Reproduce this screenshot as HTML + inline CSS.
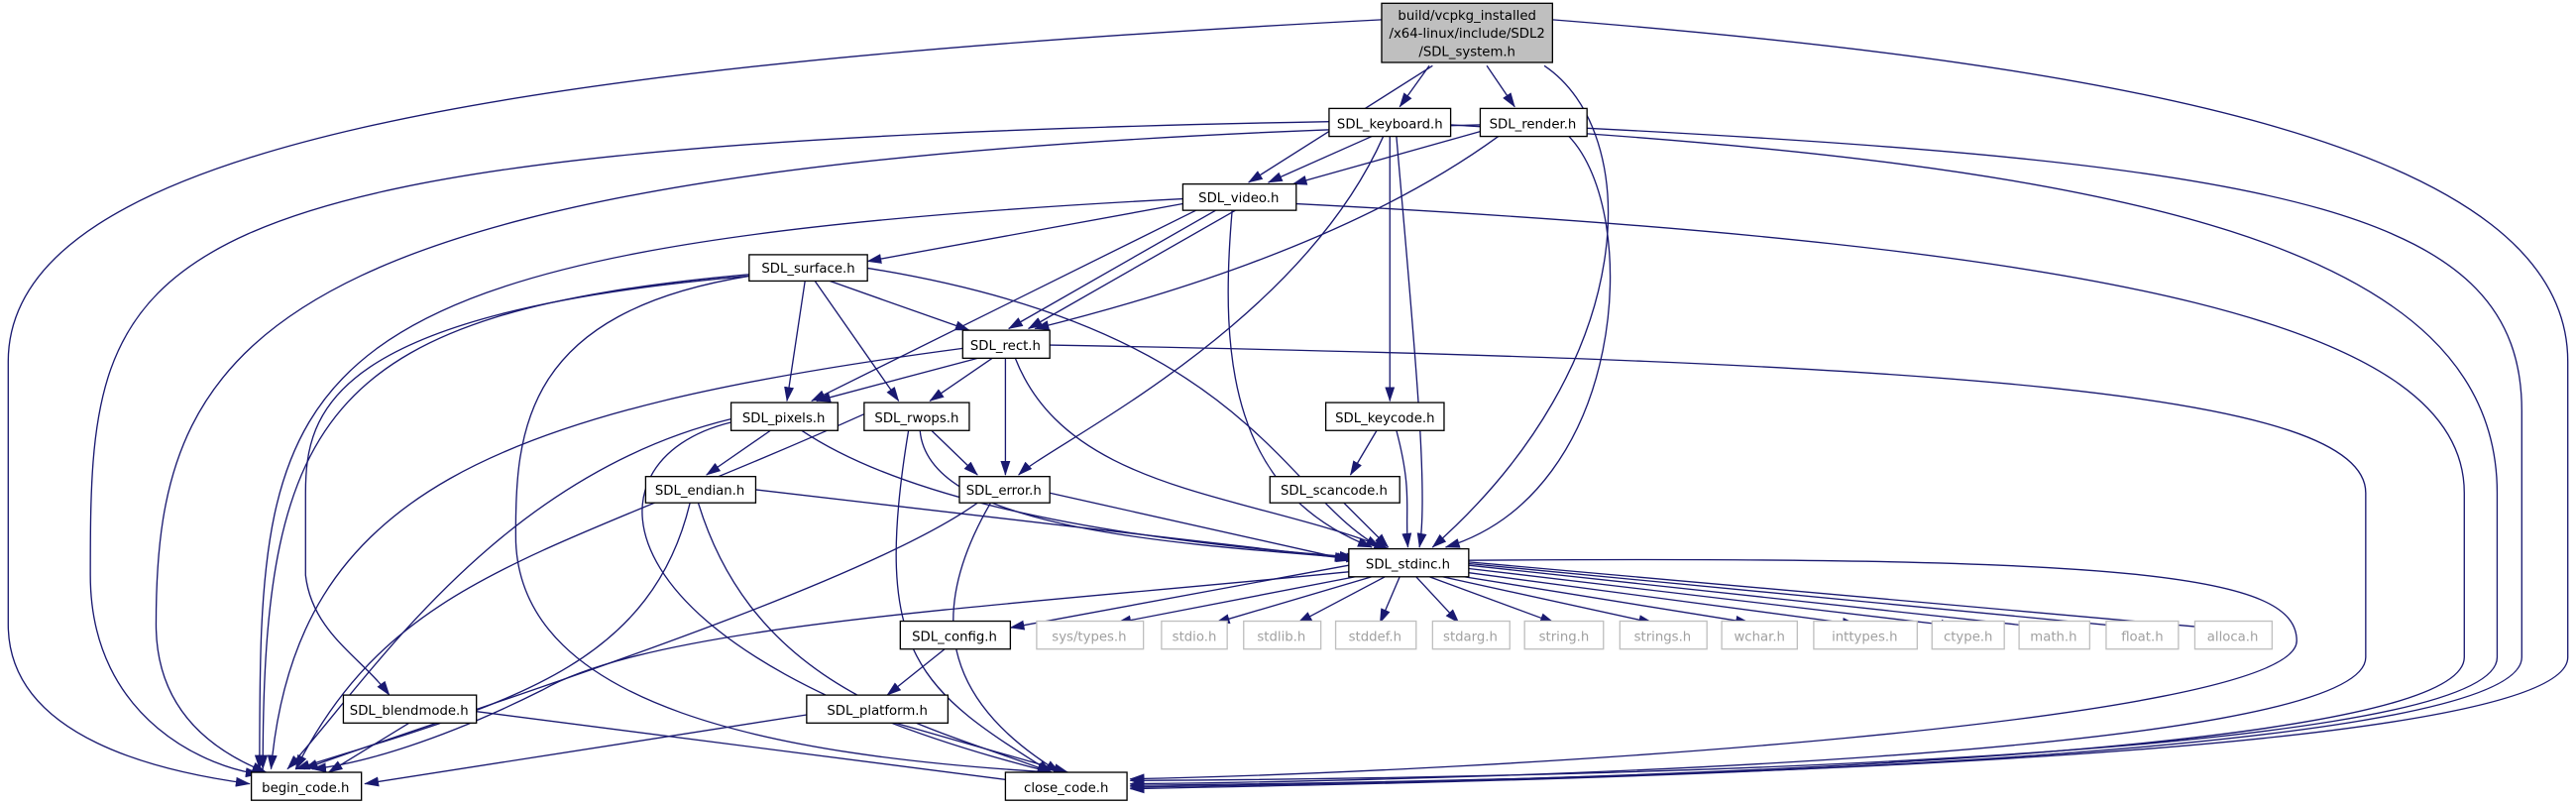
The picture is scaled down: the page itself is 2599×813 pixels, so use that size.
<!DOCTYPE html>
<html><head><meta charset="utf-8"><style>
html,body{margin:0;padding:0;background:#fff;}
svg{display:block;}
text{font-family:"DejaVu Sans","Liberation Sans",sans-serif;font-size:8px;}
</style></head><body>
<svg width="2599" height="813" viewBox="0 0 1568 490.5" preserveAspectRatio="none" xmlns="http://www.w3.org/2000/svg">
<defs>
<marker id="a" markerWidth="9" markerHeight="6" refX="8.5" refY="3" orient="auto" markerUnits="userSpaceOnUse">
<path d="M0,0 L9,3 L0,6 Z" fill="#191970"/>
</marker>
</defs>
<g fill="none" stroke="#191970" stroke-width="0.8" marker-end="url(#a)">
<path d="M841,12 C300,40 5,90 5,220 L5,380 C5,450 100,470 152,477"/>
<path d="M945,12 C1300,40 1563,90 1563,220 L1563,400 C1563,465 900,476 688,478"/>
<path d="M872,40 L760,111"/>
<path d="M870,40 L852,65"/>
<path d="M905,40 L922,65"/>
<path d="M940,40 C1000,80 1000,220 872,333"/>
<path d="M835,83 L772,111"/>
<path d="M809,74 C60,88 55,150 55,350 C55,440 130,468 158,471"/>
<path d="M883,76 C1300,100 1520,150 1520,300 L1520,400 C1520,465 900,474 688,475"/>
<path d="M842,83 C790,200 640,270 620,289"/>
<path d="M846,83 L846,244"/>
<path d="M850,83 C860,200 870,300 864,333"/>
<path d="M901,80 L787,112"/>
<path d="M912,83 C820,150 690,185 630,200"/>
<path d="M901,76 C160,95 95,200 95,380 C95,445 150,465 162,470"/>
<path d="M966,78 C1400,100 1535,130 1535,250 L1535,400 C1535,465 900,476 688,480"/>
<path d="M955,83 C1000,130 990,300 880,333"/>
<path d="M720,124 L528,159"/>
<path d="M740,128 L614,200"/>
<path d="M752,128 L626,200"/>
<path d="M728,128 L494,244"/>
<path d="M750,128 C742,220 750,300 835,333"/>
<path d="M789,124 C1300,150 1500,200 1500,300 L1500,400 C1500,465 900,476 688,479"/>
<path d="M720,121 C160,150 158,220 158,468"/>
<path d="M505,171 L590,201"/>
<path d="M490,171 L479,244"/>
<path d="M496,171 L547,244"/>
<path d="M527,163 C760,200 780,300 840,333"/>
<path d="M456,168 C200,190 186,250 186,300 L186,350 C190,385 220,400 237,423"/>
<path d="M456,167 C200,190 160,250 160,468"/>
<path d="M456,168 C320,190 313,260 314,330 C318,430 470,460 640,470"/>
<path d="M595,218 L497,244"/>
<path d="M604,218 L566,244"/>
<path d="M612,218 L612,289"/>
<path d="M618,218 C650,300 760,300 845,334"/>
<path d="M586,212 C300,250 180,300 165,468"/>
<path d="M639,210 C1200,220 1440,240 1440,300 L1440,400 C1440,460 900,475 688,477"/>
<path d="M469,262 L430,289"/>
<path d="M488,262 C560,310 700,330 824,339"/>
<path d="M445,255 C300,290 220,420 175,468"/>
<path d="M445,257 C350,280 360,400 640,470"/>
<path d="M567,262 L595,289"/>
<path d="M560,262 C565,320 700,330 828,340"/>
<path d="M526,252 C330,340 240,350 180,468"/>
<path d="M553,262 C530,400 560,420 640,470"/>
<path d="M460,298 L821,340"/>
<path d="M420,306 C395,410 300,430 180,468"/>
<path d="M425,306 C460,420 560,440 640,470"/>
<path d="M639,300 L822,341"/>
<path d="M595,306 C520,360 260,440 185,468"/>
<path d="M603,306 C560,380 580,430 645,470"/>
<path d="M838,262 L822,289"/>
<path d="M850,262 C860,300 855,310 857,333"/>
<path d="M818,306 L845,333"/>
<path d="M821,344 L615,382"/>
<path d="M825,351 L680,379"/>
<path d="M835,351 L740,379"/>
<path d="M843,351 L790,379"/>
<path d="M852,351 L840,379"/>
<path d="M862,351 L888,379"/>
<path d="M870,351 L946,379"/>
<path d="M878,351 L1006,379"/>
<path d="M885,350 L1065,379"/>
<path d="M890,348 L1130,380"/>
<path d="M894,346 L1190,381"/>
<path d="M894,344 L1245,382"/>
<path d="M894,343 L1300,382"/>
<path d="M894,342 L1355,383"/>
<path d="M821,348 C600,370 400,380 330,420 C270,450 220,465 190,468"/>
<path d="M894,341 C1300,338 1398,350 1398,390 C1398,440 900,470 688,474"/>
<path d="M575,395 L540,423"/>
<path d="M491,435 L222,477"/>
<path d="M545,440 L650,470"/>
<path d="M249,440 L200,470"/>
<path d="M290,433 L640,478"/>
</g>
<g stroke="#000" stroke-width="0.8" fill="#fff">
<rect x="841" y="2" width="104" height="36" fill="#bfbfbf"/>
<rect x="809" y="66" width="74" height="17"/>
<rect x="901" y="66" width="65" height="17"/>
<rect x="720" y="112" width="69" height="16"/>
<rect x="456" y="155" width="72" height="16"/>
<rect x="586" y="201" width="53" height="17"/>
<rect x="445" y="245" width="65" height="17"/>
<rect x="526" y="245" width="64" height="17"/>
<rect x="807" y="245" width="72" height="17"/>
<rect x="584" y="290" width="55" height="16"/>
<rect x="773" y="290" width="79" height="16"/>
<rect x="393" y="290" width="67" height="16"/>
<rect x="821" y="334" width="73" height="17"/>
<rect x="548" y="378" width="67" height="17"/>
<rect x="209" y="423" width="81" height="17"/>
<rect x="491" y="423" width="86" height="17"/>
<rect x="153" y="470" width="67" height="17"/>
<rect x="612" y="470" width="74" height="17"/>
</g>
<g stroke="#bfbfbf" stroke-width="0.8" fill="#fff">
<rect x="631" y="378" width="65" height="17"/>
<rect x="707" y="378" width="40" height="17"/>
<rect x="757" y="378" width="47" height="17"/>
<rect x="813" y="378" width="49" height="17"/>
<rect x="872" y="378" width="47" height="17"/>
<rect x="928" y="378" width="48" height="17"/>
<rect x="986" y="378" width="53" height="17"/>
<rect x="1048" y="378" width="46" height="17"/>
<rect x="1104" y="378" width="63" height="17"/>
<rect x="1176" y="378" width="44" height="17"/>
<rect x="1229" y="378" width="43" height="17"/>
<rect x="1282" y="378" width="44" height="17"/>
<rect x="1336" y="378" width="47" height="17"/>
</g>
<g text-anchor="middle" fill="#000">
<text x="893" y="12">build/vcpkg_installed</text>
<text x="893" y="23">/x64-linux/include/SDL2</text>
<text x="893" y="34">/SDL_system.h</text>
<text x="846" y="78">SDL_keyboard.h</text>
<text x="933" y="78">SDL_render.h</text>
<text x="754" y="123">SDL_video.h</text>
<text x="492" y="166">SDL_surface.h</text>
<text x="612" y="213">SDL_rect.h</text>
<text x="477" y="257">SDL_pixels.h</text>
<text x="558" y="257">SDL_rwops.h</text>
<text x="843" y="257">SDL_keycode.h</text>
<text x="611" y="301">SDL_error.h</text>
<text x="812" y="301">SDL_scancode.h</text>
<text x="426" y="301">SDL_endian.h</text>
<text x="857" y="346">SDL_stdinc.h</text>
<text x="581" y="390">SDL_config.h</text>
<text x="249" y="435">SDL_blendmode.h</text>
<text x="534" y="435">SDL_platform.h</text>
<text x="186" y="482">begin_code.h</text>
<text x="649" y="482">close_code.h</text>
</g>
<g text-anchor="middle" fill="#a0a0a0">
<text x="663" y="390">sys/types.h</text>
<text x="727" y="390">stdio.h</text>
<text x="780" y="390">stdlib.h</text>
<text x="837" y="390">stddef.h</text>
<text x="895" y="390">stdarg.h</text>
<text x="952" y="390">string.h</text>
<text x="1012" y="390">strings.h</text>
<text x="1071" y="390">wchar.h</text>
<text x="1135" y="390">inttypes.h</text>
<text x="1198" y="390">ctype.h</text>
<text x="1250" y="390">math.h</text>
<text x="1304" y="390">float.h</text>
<text x="1359" y="390">alloca.h</text>
</g>
</svg>
</body></html>
